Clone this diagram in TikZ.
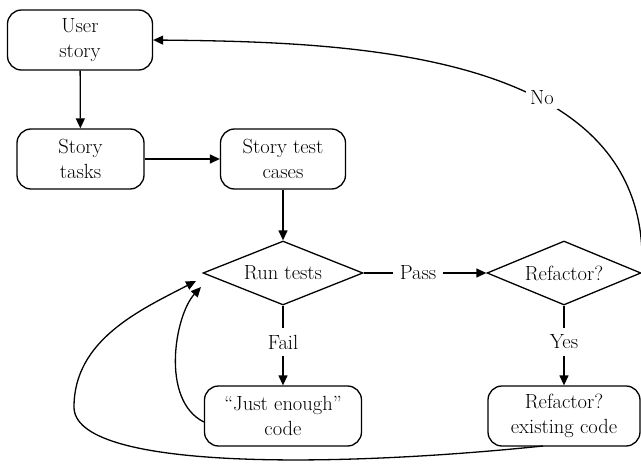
\documentclass[tikz,border=0pt]{standalone}
\usetikzlibrary{shapes.geometric,arrows.meta}
\begin{document}
\begin{tikzpicture}[x=1pt,y=-1pt,
  every node/.style={font=\fontsize{20.5}{25}\selectfont},
  box/.style={draw, line width=1.3pt, rounded corners=14pt, align=center, minimum height=60pt, inner sep=2pt},
  dia/.style={draw, line width=1.3pt, diamond, aspect=2.4, minimum width=#1, minimum height=64pt, inner sep=0pt},
  lbl/.style={inner sep=7pt},
  conn/.style={line width=1.3pt},
  arr/.style={line width=1.3pt, -{Triangle[length=10pt,width=9pt]}}]
\useasboundingbox (0,0) rectangle (641,466);
\node[box, minimum width=145pt] (us) at (80,40) {User\\story};
\node[box, minimum width=127pt] (st) at (80.5,159) {Story\\tasks};
\node[box, minimum width=125pt] (stc) at (283,159) {Story test\\cases};
\node[dia=160pt] (rt) at (283,273) {Run tests};
\node[dia=154pt] (rf) at (564,273) {Refactor?};
\node[box, minimum width=157pt] (je) at (283,416) {``Just enough''\\code};
\node[box, minimum width=152pt] (rc) at (564,416) {Refactor?\\existing code};
\node[lbl] (pass) at (418,273) {Pass};
\node[lbl] (fail) at (283,342) {Fail};
\node[lbl] (yes) at (564,342) {Yes};
\coordinate (ousstart) at (543,446);
\draw[arr] (us) -- (st);
\draw[arr] (st) -- (stc);
\draw[arr] (stc) -- (rt);
\draw[conn] (rt.east) -- (pass.west);
\draw[arr] (pass.east) -- (rf.west);
\draw[conn] (rt.south) -- (fail.north);
\draw[arr] (fail.south) -- (je.north);
\draw[conn] (rf.south) -- (yes.north);
\draw[arr] (yes.south) -- (rc.north);
\draw[arr] (rf.east) .. controls (655,50) and (350,42) .. (us.east);
\node[lbl, inner sep=4pt, fill=white] (no) at (542,98) {No};
\draw[arr] ([yshift=-6pt]je.west) .. controls (160,400) and (175,315) .. (201,287);
\draw[arr] (ousstart) .. controls (330,468) and (74,470) .. (74,407)
  .. controls (74,340) and (140,310) .. (196,281);
\end{tikzpicture}
\end{document}
